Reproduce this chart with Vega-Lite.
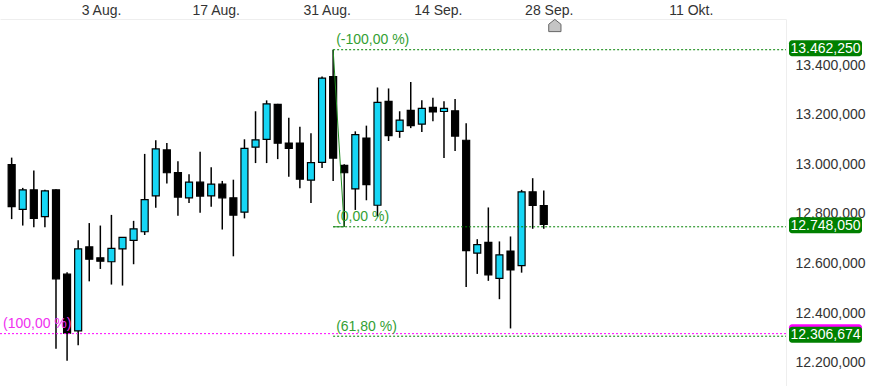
{
  "$schema": "https://vega.github.io/schema/vega-lite/v6.json",
  "width": 786,
  "height": 367,
  "autosize": {"type": "none"},
  "padding": {"left": 0, "top": 19, "right": 86, "bottom": 0},
  "background": "white",
  "config": {
    "font": "Liberation Sans",
    "locale": {"number": {"decimal": ",", "thousands": ".", "grouping": [3], "currency": ["", " €"]}},
    "view": {"stroke": null},
    "axis": {"grid": false, "ticks": false}
  },
  "datasets": {
    "candles": [
      {"d": "2020-07-24", "i": 0, "o": 12999, "h": 13027, "l": 12779, "c": 12829},
      {"d": "2020-07-27", "i": 1, "o": 12818, "h": 12905, "l": 12753, "c": 12897},
      {"d": "2020-07-28", "i": 2, "o": 12897, "h": 12975, "l": 12746, "c": 12782},
      {"d": "2020-07-29", "i": 3, "o": 12789, "h": 12897, "l": 12746, "c": 12893},
      {"d": "2020-07-30", "i": 4, "o": 12897, "h": 12899, "l": 12256, "c": 12538},
      {"d": "2020-07-31", "i": 5, "o": 12557, "h": 12565, "l": 12208, "c": 12319},
      {"d": "2020-08-03", "i": 6, "o": 12328, "h": 12694, "l": 12270, "c": 12659},
      {"d": "2020-08-04", "i": 7, "o": 12667, "h": 12763, "l": 12528, "c": 12617},
      {"d": "2020-08-05", "i": 8, "o": 12623, "h": 12753, "l": 12578, "c": 12609},
      {"d": "2020-08-06", "i": 9, "o": 12607, "h": 12796, "l": 12515, "c": 12661},
      {"d": "2020-08-07", "i": 10, "o": 12659, "h": 12705, "l": 12511, "c": 12705},
      {"d": "2020-08-10", "i": 11, "o": 12693, "h": 12772, "l": 12597, "c": 12740},
      {"d": "2020-08-11", "i": 12, "o": 12728, "h": 13042, "l": 12715, "c": 12858},
      {"d": "2020-08-12", "i": 13, "o": 12873, "h": 13097, "l": 12825, "c": 13062},
      {"d": "2020-08-13", "i": 14, "o": 13058, "h": 13086, "l": 12923, "c": 12966},
      {"d": "2020-08-14", "i": 15, "o": 12967, "h": 13012, "l": 12793, "c": 12868},
      {"d": "2020-08-17", "i": 16, "o": 12865, "h": 12960, "l": 12844, "c": 12928},
      {"d": "2020-08-18", "i": 17, "o": 12928, "h": 13051, "l": 12805, "c": 12872},
      {"d": "2020-08-19", "i": 18, "o": 12873, "h": 12988, "l": 12829, "c": 12920},
      {"d": "2020-08-20", "i": 19, "o": 12920, "h": 12933, "l": 12737, "c": 12865},
      {"d": "2020-08-21", "i": 20, "o": 12865, "h": 12938, "l": 12629, "c": 12795},
      {"d": "2020-08-24", "i": 21, "o": 12807, "h": 13101, "l": 12782, "c": 13064},
      {"d": "2020-08-25", "i": 22, "o": 13069, "h": 13214, "l": 13005, "c": 13099},
      {"d": "2020-08-26", "i": 23, "o": 13101, "h": 13258, "l": 13005, "c": 13244},
      {"d": "2020-08-27", "i": 24, "o": 13242, "h": 13244, "l": 13021, "c": 13085},
      {"d": "2020-08-28", "i": 25, "o": 13086, "h": 13188, "l": 12950, "c": 13064},
      {"d": "2020-08-31", "i": 26, "o": 13086, "h": 13152, "l": 12903, "c": 12940},
      {"d": "2020-09-01", "i": 27, "o": 12936, "h": 13125, "l": 12844, "c": 13007},
      {"d": "2020-09-02", "i": 28, "o": 13008, "h": 13354, "l": 12985, "c": 13348},
      {"d": "2020-09-03", "i": 29, "o": 13354, "h": 13462.25, "l": 12933, "c": 13025},
      {"d": "2020-09-04", "i": 30, "o": 12996, "h": 13000, "l": 12748.05, "c": 12966},
      {"d": "2020-09-07", "i": 31, "o": 12901, "h": 13133, "l": 12816, "c": 13120},
      {"d": "2020-09-08", "i": 32, "o": 13106, "h": 13156, "l": 12855, "c": 12918},
      {"d": "2020-09-09", "i": 33, "o": 12835, "h": 13310, "l": 12789, "c": 13250},
      {"d": "2020-09-10", "i": 34, "o": 13254, "h": 13306, "l": 13094, "c": 13116},
      {"d": "2020-09-11", "i": 35, "o": 13133, "h": 13214, "l": 13107, "c": 13178},
      {"d": "2020-09-14", "i": 36, "o": 13218, "h": 13332, "l": 13146, "c": 13156},
      {"d": "2020-09-15", "i": 37, "o": 13162, "h": 13258, "l": 13130, "c": 13226},
      {"d": "2020-09-16", "i": 38, "o": 13230, "h": 13269, "l": 13174, "c": 13211},
      {"d": "2020-09-17", "i": 39, "o": 13213, "h": 13254, "l": 13025, "c": 13226},
      {"d": "2020-09-18", "i": 40, "o": 13216, "h": 13263, "l": 13054, "c": 13114},
      {"d": "2020-09-21", "i": 41, "o": 13097, "h": 13166, "l": 12505, "c": 12652},
      {"d": "2020-09-22", "i": 42, "o": 12642, "h": 12698, "l": 12558, "c": 12676},
      {"d": "2020-09-23", "i": 43, "o": 12685, "h": 12826, "l": 12530, "c": 12554},
      {"d": "2020-09-24", "i": 44, "o": 12540, "h": 12689, "l": 12456, "c": 12635},
      {"d": "2020-09-25", "i": 45, "o": 12650, "h": 12709, "l": 12338, "c": 12574},
      {"d": "2020-09-28", "i": 46, "o": 12591, "h": 12897, "l": 12563, "c": 12889},
      {"d": "2020-09-29", "i": 47, "o": 12889, "h": 12944, "l": 12740, "c": 12834},
      {"d": "2020-09-30", "i": 48, "o": 12834, "h": 12894, "l": 12740, "c": 12758}
    ],
    "fib": [
      {"lvl": "(-100,00 %)", "v": 13462.25, "i": 29},
      {"lvl": "(0,00 %)", "v": 12748.05, "i": 29},
      {"lvl": "(61,80 %)", "v": 12306.674, "i": 29}
    ],
    "fib2": [{"lvl": "(100,00 %)", "v": 12317}],
    "trend": [{"i": 29, "v": 13462.25}, {"i": 30, "v": 12748.05}],
    "base": [{"i": 29, "i2": 30, "v": 12748.05}],
    "tags": [
      {"tool": "b", "v": 12317},
      {"tool": "a", "v": 13462.25},
      {"tool": "a", "v": 12748.05},
      {"tool": "a", "v": 12306.674}
    ],
    "marker": [{"i": 49, "d": "2020-10-01"}]
  },
  "layer": [
    {
      "data": {"name": "candles"},
      "mark": {"type": "rule", "color": "#000000", "strokeWidth": 1.5},
      "encoding": {
        "x": {
          "field": "i", "type": "quantitative",
          "scale": {"domain": [-0.6, 69.4], "nice": false, "zero": false},
          "axis": {
            "orient": "top", "title": null,
            "values": [6, 16, 26, 36, 46, 59],
            "labelExpr": "datum.value == 6 ? '3 Aug.' : datum.value == 16 ? '17 Aug.' : datum.value == 26 ? '31 Aug.' : datum.value == 36 ? '14 Sep.' : datum.value == 46 ? '28 Sep.' : '11 Okt.'",
            "labelAlign": "left", "labelOffset": 3, "labelPadding": 4.5,
            "labelBaseline": "alphabetic", "labelFontSize": 14, "labelColor": "#333333",
            "labelFlush": false, "labelOverlap": false,
            "domainColor": "#eeeeee"
          }
        },
        "y": {
          "field": "l", "type": "quantitative",
          "scale": {"domain": [12126, 13566], "nice": false, "zero": false},
          "axis": {
            "orient": "right", "title": null,
            "values": [12200, 12400, 12600, 12800, 13000, 13200, 13400],
            "format": ",.3f",
            "labelAlign": "left", "labelPadding": 9, "labelBaseline": "middle",
            "labelFontSize": 14, "labelColor": "#333333",
            "labelFlush": false, "labelOverlap": false,
            "domainColor": "#eeeeee"
          }
        },
        "y2": {"field": "h"}
      }
    },
    {
      "data": {"name": "candles"},
      "mark": {"type": "bar", "orient": "vertical", "width": 7, "stroke": "#000000", "strokeWidth": 1.2},
      "encoding": {
        "x": {"field": "i", "type": "quantitative"},
        "y": {"field": "o", "type": "quantitative"},
        "y2": {"field": "c"},
        "fill": {"condition": {"test": "datum.c > datum.o", "value": "#16d6f5"}, "value": "#000000"}
      }
    },
    {
      "data": {"name": "fib2"},
      "mark": {"type": "rule", "color": "#ff00ff", "strokeWidth": 1, "strokeDash": [2, 2]},
      "encoding": {
        "x": {"value": 0},
        "x2": {"value": "width"},
        "y": {"field": "v", "type": "quantitative"}
      }
    },
    {
      "data": {"name": "fib2"},
      "mark": {"type": "text", "align": "left", "baseline": "middle", "dy": -10, "fontSize": 14, "color": "#f030f0"},
      "encoding": {
        "x": {"value": 3},
        "y": {"field": "v", "type": "quantitative"},
        "text": {"field": "lvl"}
      }
    },
    {
      "data": {"name": "fib"},
      "mark": {"type": "rule", "color": "#008000", "strokeWidth": 1, "strokeDash": [2, 2]},
      "encoding": {
        "x": {"field": "i", "type": "quantitative"},
        "x2": {"value": "width"},
        "y": {"field": "v", "type": "quantitative"}
      }
    },
    {
      "data": {"name": "fib"},
      "mark": {"type": "text", "align": "left", "baseline": "middle", "dx": 3, "dy": -9.5, "fontSize": 14, "color": "#33a033"},
      "encoding": {
        "x": {"field": "i", "type": "quantitative"},
        "y": {"field": "v", "type": "quantitative"},
        "text": {"field": "lvl"}
      }
    },
    {
      "data": {"name": "trend"},
      "mark": {"type": "line", "color": "#1e8a1e", "strokeWidth": 1},
      "encoding": {
        "x": {"field": "i", "type": "quantitative"},
        "y": {"field": "v", "type": "quantitative"}
      }
    },
    {
      "data": {"name": "base"},
      "mark": {"type": "rule", "color": "#1e8a1e", "strokeWidth": 1},
      "encoding": {
        "x": {"field": "i", "type": "quantitative"},
        "x2": {"field": "i2"},
        "y": {"field": "v", "type": "quantitative"}
      }
    },
    {
      "data": {"name": "tags"},
      "mark": {"type": "bar", "orient": "horizontal", "height": 16, "cornerRadius": 3, "yOffset": -1.5},
      "encoding": {
        "x": {"value": 789},
        "x2": {"value": 862},
        "y": {"field": "v", "type": "quantitative"},
        "fill": {"field": "tool", "type": "nominal", "scale": {"domain": ["a", "b"], "range": ["#008000", "#ff00ff"]}, "legend": null}
      }
    },
    {
      "data": {"name": "tags"},
      "transform": [{"filter": "datum.tool == 'a'"}],
      "mark": {"type": "text", "align": "center", "baseline": "middle", "dy": -1, "fontSize": 14, "color": "#ffffff"},
      "encoding": {
        "x": {"value": 825.5},
        "y": {"field": "v", "type": "quantitative"},
        "text": {"field": "v", "type": "quantitative", "format": ",.3f"}
      }
    },
    {
      "data": {"name": "marker"},
      "mark": {"type": "point", "shape": "M -1 1 L -1 -0.2 L 0 -1 L 1 -0.2 L 1 1 Z", "size": 150, "filled": true, "fill": "#c4c4c4", "stroke": "#666666", "strokeWidth": 1, "opacity": 1},
      "encoding": {
        "x": {"field": "i", "type": "quantitative"},
        "y": {"value": 6.5}
      }
    }
  ]
}
